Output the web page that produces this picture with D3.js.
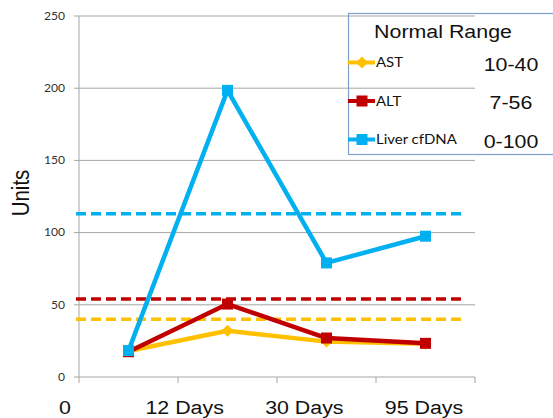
<!DOCTYPE html>
<html>
<head>
<meta charset="UTF-8">
<title>Liver markers</title>
<script src="https://d3js.org/d3.v7.min.js"></script>
<style>
  body { margin: 0; background: #fff; }
  svg { display: block; }
</style>
</head>
<body>
<svg id="chart"></svg>
<script>
// ---- data ----
const timepoints = ["T1", "T2", "T3", "T4"];
const xLabels = ["0", "12 Days", "30 Days", "95 Days"];
const yTicks = [0, 50, 100, 150, 200, 250];

const astValues = [18, 32, 24.5, 23];
const altValues = [17.5, 50.5, 27, 23.3];
const cfdnaValues = [18.3, 198.5, 79, 97.5];

const seriesNames = ["AST", "ALT", "Liver cfDNA"];
const normalRanges = ["10-40", "7-56", "0-100"];
const upperLimits = [40, 54, 113];

const colors = ["#FFC000", "#C00000", "#00B0F0"];
const markers = ["diamond", "square", "square"];

const W = 553, H = 418;
const SX = 1.15; // text in the picture is a bit wider than tall

const svg = d3.select("#chart").attr("width", W).attr("height", H);

const x = d3.scaleBand().domain(timepoints).range([79, 475]);
const y = d3.scaleLinear().domain([0, 250]).range([377, 16]);

const stretchText = function(sel, px, py, extra) {
  sel.attr("transform", `translate(${px},${py}) scale(${SX},1)` + (extra || ""));
};

// gridlines
svg.append("g").selectAll("line").data(yTicks.filter(d => d > 0)).enter()
  .append("line")
  .attr("x1", x.range()[0]).attr("x2", x.range()[1])
  .attr("y1", d => y(d)).attr("y2", d => y(d))
  .attr("stroke", "#a6a6a6").attr("stroke-width", 1);

// y axis
svg.append("line")
  .attr("x1", x.range()[0]).attr("x2", x.range()[0])
  .attr("y1", y(0)).attr("y2", y(250))
  .attr("stroke", "#a6a6a6");
svg.append("g").selectAll("line").data(yTicks).enter()
  .append("line")
  .attr("x1", x.range()[0] - 5).attr("x2", x.range()[0])
  .attr("y1", d => y(d)).attr("y2", d => y(d))
  .attr("stroke", "#a6a6a6");
svg.append("g").selectAll("text").data(yTicks).enter()
  .append("text")
  .each(function(d) { stretchText(d3.select(this), 65, y(d) + 3.8); })
  .attr("text-anchor", "end")
  .style("font-family", "Lato, 'Open Sans', sans-serif")
  .style("font-size", "10.5px")
  .style("fill", "#333")
  .text(d => d);

// x axis
svg.append("line")
  .attr("x1", x.range()[0]).attr("x2", x.range()[1])
  .attr("y1", y(0)).attr("y2", y(0))
  .attr("stroke", "#a6a6a6");
const bounds = timepoints.map(d => x(d)).concat([x.range()[1]]);
svg.append("g").selectAll("line").data(bounds).enter()
  .append("line")
  .attr("x1", d => d).attr("x2", d => d)
  .attr("y1", y(0)).attr("y2", y(0) + 6)
  .attr("stroke", "#a6a6a6");

// x labels (separate text box in the original, not on the ticks)
const xl = d3.scalePoint().domain(xLabels).range([65, 424]);
svg.append("g").selectAll("text").data(xLabels).enter()
  .append("text")
  .each(function(d) { stretchText(d3.select(this), xl(d), 414); })
  .attr("text-anchor", "middle")
  .style("font-family", "'Liberation Sans', Arial, sans-serif")
  .style("font-size", "18.6px")
  .style("fill", "#111")
  .text(d => d);

// y title
svg.append("text")
  .attr("transform", `translate(29,193) scale(${SX},1) rotate(-90)`)
  .attr("text-anchor", "middle")
  .style("font-family", "'Liberation Sans', Arial, sans-serif")
  .style("font-size", "20.5px")
  .style("fill", "#111")
  .text("Units");

// normal-range dashed lines
svg.append("g").selectAll("line").data(upperLimits).enter()
  .append("line")
  .attr("x1", x.range()[0] - 3).attr("x2", x.range()[1] - 9)
  .attr("y1", d => y(d)).attr("y2", d => y(d))
  .attr("stroke", (d, i) => colors[i])
  .attr("stroke-width", 3.5)
  .attr("stroke-dasharray", "10,5");

// series
const allSeries = [astValues, altValues, cfdnaValues];
const line = d3.line()
  .x((d, i) => x(timepoints[i]) + x.bandwidth() / 2)
  .y(d => y(d));

const drawMarker = function(g, type, cx, cy, color) {
  if (type == "diamond") {
    g.append("path")
      .attr("d", `M${cx},${cy - 6}L${cx + 6},${cy}L${cx},${cy + 6}L${cx - 6},${cy}Z`)
      .attr("fill", color);
  } else {
    g.append("rect")
      .attr("x", cx - 5.5).attr("y", cy - 5.5)
      .attr("width", 11).attr("height", 11)
      .attr("fill", color);
  }
};

allSeries.forEach(function(vals, k) {
  const g = svg.append("g");
  g.append("path")
    .attr("d", line(vals))
    .attr("fill", "none")
    .attr("stroke", colors[k])
    .attr("stroke-width", 4.5)
    .attr("stroke-linejoin", "round");
  vals.forEach(function(v, i) {
    drawMarker(g, markers[k], x(timepoints[i]) + x.bandwidth() / 2, y(v), colors[k]);
  });
});

// legend box
const lg = svg.append("g");
lg.append("rect")
  .attr("x", 348.5).attr("y", 13.5)
  .attr("width", 220).attr("height", 141)
  .attr("fill", "none")
  .attr("stroke", "#7f9fcf").attr("stroke-width", 1.2);

lg.append("text")
  .each(function() { stretchText(d3.select(this), 443, 38); })
  .attr("text-anchor", "middle")
  .style("font-family", "'Liberation Sans', Arial, sans-serif")
  .style("font-size", "18.6px")
  .style("fill", "#111")
  .text("Normal Range");

const rowY = [62.5, 101, 139.5];
seriesNames.forEach(function(name, k) {
  lg.append("line")
    .attr("x1", 348).attr("x2", 375)
    .attr("y1", rowY[k]).attr("y2", rowY[k])
    .attr("stroke", colors[k]).attr("stroke-width", 4);
  drawMarker(lg, markers[k], 362, rowY[k], colors[k]);
  lg.append("text")
    .each(function() { stretchText(d3.select(this), 376, rowY[k] + 4.5); })
    .style("font-family", "Lato, 'Open Sans', sans-serif")
    .style("font-size", "13px")
    .style("fill", "#111")
    .text(name);
  lg.append("text")
    .each(function() { stretchText(d3.select(this), 511, rowY[k] + 8); })
    .attr("text-anchor", "middle")
    .style("font-family", "'Liberation Sans', Arial, sans-serif")
    .style("font-size", "18.6px")
    .style("fill", "#111")
    .text(normalRanges[k]);
});
</script>
</body>
</html>
